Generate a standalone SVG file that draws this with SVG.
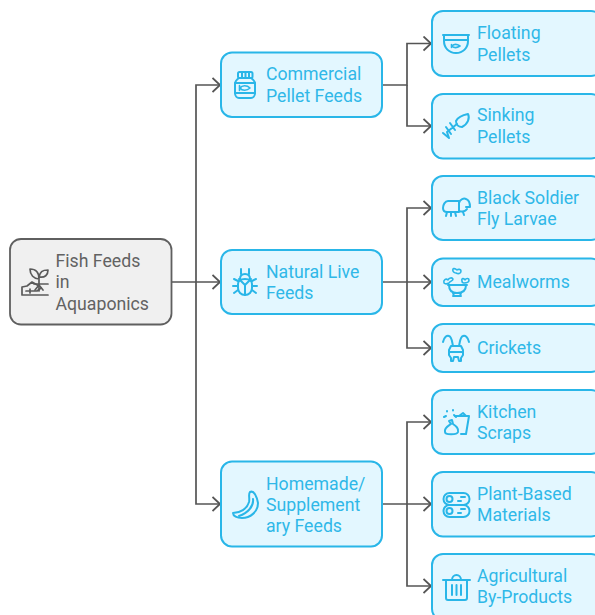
<svg xmlns="http://www.w3.org/2000/svg" width="595" height="615" viewBox="0 0 595 615">
<style>
.n{fill:#e3f7ff;stroke:#29b6e8;stroke-width:2}
.r{fill:#f0f0f0;stroke:#5f5f5f;stroke-width:1.8}
.t{font-family:Roboto,"Liberation Sans",sans-serif;font-size:17.7px;fill:#2fb8e8}
.rt{fill:#626262}
.i{fill:none;stroke:#29b6e8;stroke-width:2;stroke-linecap:round;stroke-linejoin:round}
.ir{stroke:#5a5a5a}
.c{fill:none;stroke:#555;stroke-width:1.7}
</style>
<defs>
<marker id="a" markerUnits="userSpaceOnUse" markerWidth="10" markerHeight="16" refX="8.5" refY="8" orient="auto"><path d="M1 1L8.5 8L1 15" fill="none" stroke="#555" stroke-width="1.8"/></marker>
</defs>
<g id="connectors" class="c">
<path d="M172 282H220" marker-end="url(#a)"/>
<path d="M196 282V85H220" marker-end="url(#a)"/>
<path d="M196 282V504H220" marker-end="url(#a)"/>
<path d="M382 85H407V43.500H431" marker-end="url(#a)"/>
<path d="M407 85V126H431" marker-end="url(#a)"/>
<path d="M382 282H431" marker-end="url(#a)"/>
<path d="M407 282V208H431" marker-end="url(#a)"/>
<path d="M407 282V348H431" marker-end="url(#a)"/>
<path d="M382 504H431" marker-end="url(#a)"/>
<path d="M407 504V422H431" marker-end="url(#a)"/>
<path d="M407 504V586H431" marker-end="url(#a)"/>
</g>
<g id="root">
<rect class="r" x="10" y="239" width="161.500" height="85.500" rx="11"/>
<g class="i ir" style="stroke-width:1.7">
<path d="M22 295H48M22 295V287L27 286L32 282L39 286"/>
<path d="M26 291H37L41 288M30 289V293"/>
<path d="M39 291V278M39 279C34 279 30 275 30 269C36 269 39 273 39 279ZM39 277C40 272 42 270 48 270C48 275 45 278 39 277Z"/>
<path d="M34 284H48M39 285L35 290M39 285L43 290"/>
</g>
<text class="t rt" x="55.500" y="267">Fish Feeds</text>
<text class="t rt" x="55.500" y="288">in</text>
<text class="t rt" x="55.500" y="310">Aquaponics</text>
</g>
<g id="commercial">
<rect class="n" x="221" y="52.500" width="161" height="64.500" rx="11"/>
<g class="i">
<rect x="238" y="72" width="14.500" height="6" rx="1.500"/>
<path d="M242 72V78M245.500 72V78M249 72V78"/>
<path d="M239 78C236 80 235 82 235 84V93C235 96 237 98 239 98H251C253 98 255 96 255 93V84C255 82 254 80 251 78"/>
<path d="M235 83H255M235 93H255"/>
<path d="M240 88C242 85 247 85 250 88C247 91 242 91 240 88ZM239.500 85.500V90.500" stroke-width="1.600"/>
</g>
<text class="t" x="266" y="80">Commercial</text>
<text class="t" x="266" y="102">Pellet Feeds</text>
</g>
<g id="natural">
<rect class="n" x="221" y="250" width="161" height="64" rx="11"/>
<g class="i">
<path d="M241 269V274M249 269V274"/>
<path d="M240 279C240 276 242 274 245 274C248 274 250 276 250 279"/>
<path d="M238 284C238 280 241 279 245 279C249 279 252 280 252 284V288C252 292 249 295 245 295C241 295 238 292 238 288Z"/>
<path d="M239 279L245 285L251 279M245 285V295"/>
<path d="M238 281L234 279M238 286H233M238 290L234 293M252 281L256 279M252 286H257M252 290L256 293"/>
</g>
<text class="t" x="266" y="277.500">Natural Live</text>
<text class="t" x="266" y="299">Feeds</text>
</g>
<g id="homemade">
<rect class="n" x="221" y="461.500" width="161" height="85" rx="11"/>
<g class="i">
<path d="M250 492C254 490 257 497 258 503C258 512 250 518 242 518C237 518 233 516 233 513C240 513 247 509 249 502C250 498 248 494 250 492Z"/>
<path d="M253 499C254 506 248 513 239 516"/>
</g>
<text class="t" x="266" y="489.500">Homemade/</text>
<text class="t" x="266" y="511">Supplement</text>
<text class="t" x="266" y="532">ary Feeds</text>
</g>
<g id="floating">
<rect class="n" x="432" y="11" width="170" height="65" rx="11"/>
<g class="i">
<path d="M443 35H469M444 35V41C444 48 449 53 456 53C463 53 468 48 468 41V35M444 40H468"/>
<path d="M452 46C454 44 457 44 460 46C457 48 454 48 452 46ZM451.500 44.500V47.500" stroke-width="1.600"/>
</g>
<text class="t" x="477" y="39">Floating</text>
<text class="t" x="477" y="61">Pellets</text>
</g>
<g id="sinking">
<rect class="n" x="432" y="94" width="170" height="64.500" rx="11"/>
<g class="i">
<path d="M456 121C458 117 463 115 468 114C470 118 468 124 462 127C459 127 456 125 456 121Z"/>
<path d="M457 124L447 132M450 123L455 130M446 127L451 134M443 133L449 138L447 132"/>
</g>
<text class="t" x="477" y="121">Sinking</text>
<text class="t" x="477" y="143">Pellets</text>
</g>
<g id="black-soldier">
<rect class="n" x="432" y="176" width="170" height="64" rx="11"/>
<g class="i">
<path d="M456 201H448C445 201 443 205 443 208C443 211 445 212 447 212H459V201Z"/>
<path d="M459 203C460 199 464 198 466 199C469 200 470 204 470 207H466M459 211C462 212 465 212 467 209"/>
<path d="M447 212L446 216M451 212V216M455 212L456 216M463 212L464 215"/>
</g>
<text class="t" x="477" y="203.500">Black Soldier</text>
<text class="t" x="477" y="225">Fly Larvae</text>
</g>
<g id="mealworms">
<rect class="n" x="432" y="258.500" width="170" height="47.500" rx="11"/>
<g class="i">
<path d="M448 285H467M449 285C449 290 452 293 457 293C463 293 466 290 466 285M453 296H461M453 293L454 296M461 293L460 296"/>
<path d="M444 283C443 280 446 278 448 280C449 278 452 277 453 279C453 281 450 281 449 283C447 284 445 284 444 283Z" stroke-width="1.600"/>
<path d="M462 281C461 278 464 278 465 280C466 278 469 278 469 280C469 283 465 283 464 283C463 283 462 282 462 281Z" stroke-width="1.600"/>
<path d="M453 271C452 268 455 268 457 270C458 269 461 269 461 271C461 274 458 274 456 273C455 273 453 272 453 271Z" stroke-width="1.600"/>
</g>
<text class="t" x="477" y="288">Mealworms</text>
</g>
<g id="crickets">
<rect class="n" x="432" y="324" width="170" height="48" rx="11"/>
<g class="i">
<path d="M443 342C444 337 447 335 449 336C452 337 452 342 453 346M469 342C468 337 465 335 463 336C460 337 460 342 459 346"/>
<path d="M451 346H461L463 350V355L461 358V361H459L458 357H454L453 361H451V358L449 355V350Z"/>
<path d="M449 352H463"/>
</g>
<text class="t" x="477" y="354">Crickets</text>
</g>
<g id="kitchen">
<rect class="n" x="432" y="390" width="170" height="64" rx="11"/>
<g class="i">
<path d="M444 417L446 416M447 411V411.500M453 410V410.500M454 415L456 417"/>
<path d="M455 416H469L466 434H461M459 416L463 413L466 416"/>
<path d="M452 420L453 424C456 426 459 428 458 432C457 435 445 435 445 432C444 428 448 426 451 424L449 421Z"/>
</g>
<text class="t" x="477" y="418">Kitchen</text>
<text class="t" x="477" y="439">Scraps</text>
</g>
<g id="plant">
<rect class="n" x="432" y="472" width="170" height="64.500" rx="11"/>
<g class="i">
<rect x="443.500" y="493" width="26" height="12" rx="6"/>
<rect x="443.500" y="505" width="26" height="12" rx="6"/>
<circle cx="449.500" cy="499" r="3"/>
<circle cx="449.500" cy="511" r="3"/>
<path d="M461 497H465M458 501H461M461 509H465M458 513H461"/>
</g>
<text class="t" x="477" y="500">Plant-Based</text>
<text class="t" x="477" y="521">Materials</text>
</g>
<g id="agricultural">
<rect class="n" x="432" y="554" width="170" height="66" rx="11"/>
<g class="i">
<path d="M443 580H470M452 580C452 577 454 575 456.500 575C459 575 461 577 461 580"/>
<path d="M446 580V598C446 599 447 600 448 600H465C466 600 467 599 467 598V580"/>
<path d="M452 585V595M456.500 585V595M461 585V595"/>
</g>
<text class="t" x="477" y="582">Agricultural</text>
<text class="t" x="477" y="603">By-Products</text>
</g>
</svg>
